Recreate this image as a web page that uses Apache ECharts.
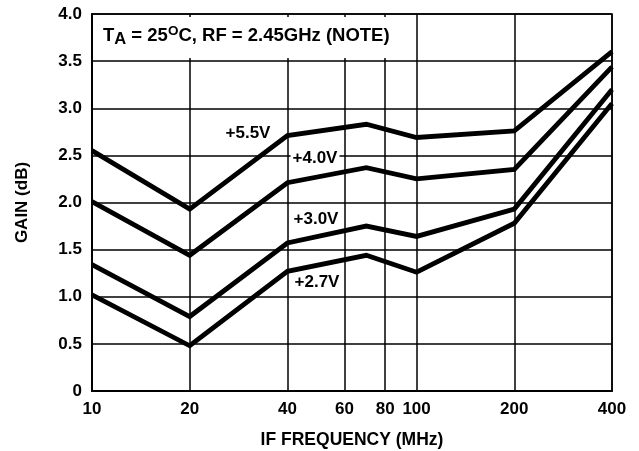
<!DOCTYPE html>
<html><head><meta charset="utf-8">
<script src="https://cdn.jsdelivr.net/npm/echarts@6/dist/echarts.min.js"></script>
<style>html,body{margin:0;padding:0;background:#fff}#c{width:639px;height:451px}</style>
</head><body><div id="c"></div>
<script>
const freqs = [10, 20, 40, 70, 100, 200, 400];
const gain55 = [2.55, 1.93, 2.71, 2.83, 2.69, 2.76, 3.60];
const gain40 = [2.01, 1.44, 2.21, 2.37, 2.25, 2.35, 3.44];
const gain30 = [1.34, 0.79, 1.57, 1.75, 1.64, 1.93, 3.20];
const gain27 = [1.02, 0.48, 1.27, 1.44, 1.26, 1.78, 3.05];
const seriesNames = ['+5.5V', '+4.0V', '+3.0V', '+2.7V'];
const xTicks = [10, 20, 40, 60, 80, 100, 200, 400];
const yTicks = [0, 0.5, 1, 1.5, 2, 2.5, 3, 3.5, 4];

const FONT = '"Liberation Sans", Arial, Helvetica, sans-serif';
const chart = echarts.init(document.getElementById('c'), null, {renderer: 'canvas'});
const allGain = [gain55, gain40, gain30, gain27];
const labelPos = [[248, 133], [315, 158], [316, 219], [317, 282]];

chart.setOption({
  animation: false,
  backgroundColor: '#fff',
  grid: {left: 92, right: 27, top: 14, bottom: 60, outerBoundsMode: 'none', containLabel: false,
    show: true, borderColor: '#000', borderWidth: 1.5, backgroundColor: 'transparent'},
  title: {
    text: '{m|T}{s|A}{m| = 25}{p|O}{m|C, RF = 2.45GHz (NOTE)}',
    left: 93, top: 17, padding: [7, 4, 10, 10], backgroundColor: '#fff',
    textStyle: {
      rich: {
        m: {fontFamily: FONT, fontWeight: 'bold', fontSize: 18.5, color: '#000', lineHeight: 24},
        s: {fontFamily: FONT, fontWeight: 'bold', fontSize: 16.5, color: '#000', verticalAlign: 'bottom', lineHeight: 15},
        p: {fontFamily: FONT, fontWeight: 'bold', fontSize: 13.5, color: '#000', verticalAlign: 'top', lineHeight: 17}
      }
    }
  },
  xAxis: {
    type: 'log', logBase: 10, min: 10, max: 400,
    name: 'IF FREQUENCY (MHz)', nameLocation: 'middle', nameGap: 40, nameMoveOverlap: false,
    nameTextStyle: {fontFamily: FONT, fontWeight: 'bold', fontSize: 17.5, color: '#000'},
    axisLine: {show: true, lineStyle: {color: '#000', width: 2}},
    axisTick: {show: false, customValues: xTicks},
    axisLabel: {customValues: xTicks, fontFamily: FONT, fontWeight: 'bold', fontSize: 17, color: '#000', margin: 10},
    splitLine: {show: true, lineStyle: {color: '#000', width: 1.5}},
    minorSplitLine: {show: false}
  },
  yAxis: {
    type: 'value', min: 0, max: 4, interval: 0.5,
    name: 'GAIN (dB)', nameLocation: 'middle', nameGap: 61, nameRotate: 90, nameMoveOverlap: false,
    nameTextStyle: {fontFamily: FONT, fontWeight: 'bold', fontSize: 17, color: '#000'},
    axisLine: {show: true, lineStyle: {color: '#000', width: 2}},
    axisTick: {show: false},
    axisLabel: {fontFamily: FONT, fontWeight: 'bold', fontSize: 17, color: '#000', margin: 10,
      formatter: v => v === 0 ? '0' : v.toFixed(1)},
    splitLine: {show: true, lineStyle: {color: '#000', width: 1.5}}
  },
  series: allGain.map((g, i) => ({
    type: 'line', name: seriesNames[i],
    data: freqs.map((f, j) => [f, g[j]]),
    symbol: 'none', lineStyle: {color: '#000', width: 4.8, join: 'miter'},
    z: 3
  })),
  graphic: seriesNames.map((n, i) => ({
    type: 'text', x: labelPos[i][0], y: labelPos[i][1], z: 1,
    style: {text: n, fill: '#000', font: 'bold 17px ' + FONT, textAlign: 'center', textVerticalAlign: 'middle',
      backgroundColor: '#fff', padding: [0, 2]}
  }))
});
</script></body></html>
